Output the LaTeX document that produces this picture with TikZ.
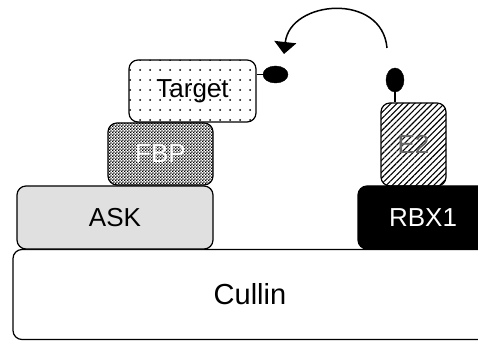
\documentclass[tikz,border=0pt]{standalone}
\usepackage{fontspec}
\setmainfont{Liberation Sans}
\usetikzlibrary{arrows.meta,patterns,patterns.meta,shapes.geometric}
\pgfdeclarepatternformonly{finechecker}{\pgfpointorigin}{\pgfqpoint{2.8pt}{2.8pt}}{\pgfqpoint{2.8pt}{2.8pt}}{%
  \pgfpathrectangle{\pgfpointorigin}{\pgfqpoint{1.4pt}{1.4pt}}%
  \pgfpathrectangle{\pgfqpoint{1.4pt}{1.4pt}}{\pgfqpoint{1.4pt}{1.4pt}}%
  \pgfusepath{fill}}
\tikzset{
  part/.style={draw,line width=1.2pt,rounded corners=9pt,inner sep=0pt,
    font=\fontsize{26}{30}\selectfont},
  tag/.style={draw,fill=black,ellipse,inner sep=0pt},
}
\begin{document}
\begin{tikzpicture}[x=1pt,y=1pt]
    \useasboundingbox (0,0) rectangle (478,340);
    \node[part,minimum width=474pt,minimum height=90pt,font=\fontsize{29}{33}\selectfont] (cullin) at (250,45.5) {Cullin};
    \node[part,fill=black!12,minimum width=196pt,minimum height=63pt] (ask) at (115,122.5) {ASK};
    \node[part,fill=black,text=white,minimum width=130pt,minimum height=63pt] (rbx) at (423,122.5) {RBX1};
    \node[part,pattern=finechecker,text=white,minimum width=105pt,minimum height=62pt] (fbp) at (160.5,186) {FBP};
    \node[part,pattern={Dots[distance=10pt,radius=1pt]},minimum width=127pt,minimum height=62pt] (target) at (192.5,249) {Target};
    \node[part,pattern={Lines[angle=45,distance=4.2pt,line width=1.1pt]},text=black!60,minimum width=65pt,minimum height=83pt] (e2) at (413.5,195.5) {E2};
    % ubiquitin tags
    \node[tag,minimum width=25pt,minimum height=17pt] (ubt) at (275.5,265.5) {};
    \node[tag,minimum width=18pt,minimum height=24pt] (ube) at (395,260) {};
    \draw[line width=1.2pt] (target.east |- ubt) -- (ubt);
    \draw[line width=1.2pt] (ube) -- (ube |- e2.north);
    % transfer
    \coordinate (from) at (387,292);
    \coordinate (to) at (284,286);
    \draw[line width=1.5pt,-{Triangle[width=22pt,length=12pt]}] (from) .. controls (382,348) and (290,340) .. (to);
\end{tikzpicture}
\end{document}
